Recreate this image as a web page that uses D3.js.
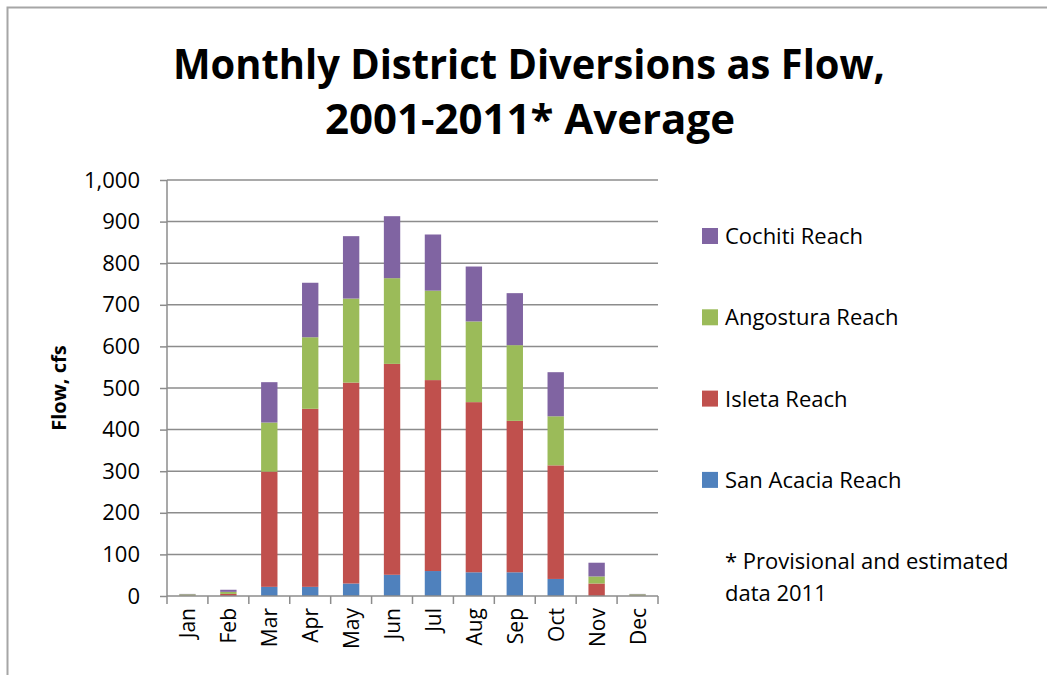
<!DOCTYPE html>
<html>
<head>
<meta charset="utf-8">
<script src="https://cdn.jsdelivr.net/npm/d3@7"></script>
<style>
  body { margin: 0; background: #fff; }
  svg { display: block; }
  text { font-family: "Open Sans", "Liberation Sans", sans-serif; }
</style>
</head>
<body>
<div id="chart"></div>
<script>
// values (cfs)
var months = ["Jan", "Feb", "Mar", "Apr", "May", "Jun", "Jul", "Aug", "Sep", "Oct", "Nov", "Dec"];
var sanAcacia = [0, 0, 22, 22, 30, 51, 60, 57, 57, 41, 0, 0];
var isleta    = [1, 5, 277, 428, 483, 507, 459, 409, 364, 273, 30, 1];
var angostura = [3, 5, 118, 172, 202, 206, 215, 194, 182, 118, 17, 3];
var cochiti   = [1, 5, 97, 131, 150, 149, 135, 132, 125, 106, 33, 1];
var seriesNames = ["San Acacia Reach", "Isleta Reach", "Angostura Reach", "Cochiti Reach"];
var colors = ["#4F81BD", "#C0504D", "#9BBB59", "#8064A2"];
var yTicks = [0, 100, 200, 300, 400, 500, 600, 700, 800, 900, 1000];

var W = 1047, H = 675;
var svg = d3.select("#chart").append("svg").attr("width", W).attr("height", H);

// outer frame (cut off at right/bottom)
svg.append("path").attr("d", "M7.5," + H + "V7.5H" + W)
    .attr("fill", "none").attr("stroke", "#a6a6a6").attr("stroke-width", 2);

// title
svg.append("text").attr("x", 529).attr("y", 79).attr("text-anchor", "middle")
    .attr("font-size", 41).attr("font-weight", "bold")
    .attr("textLength", 712).attr("lengthAdjust", "spacingAndGlyphs")
    .text("Monthly District Diversions as Flow,");
svg.append("text").attr("x", 530).attr("y", 134).attr("text-anchor", "middle")
    .attr("font-size", 41).attr("font-weight", "bold")
    .attr("textLength", 410).attr("lengthAdjust", "spacingAndGlyphs")
    .text("2001-2011* Average");

var margin = {left: 167, top: 180, right: 389, bottom: 79};
var width = W - margin.left - margin.right,
    height = H - margin.top - margin.bottom;
var g = svg.append("g").attr("transform", "translate(" + margin.left + "," + margin.top + ")");

var x = d3.scaleBand().domain(months).range([0, width]).paddingInner(0.6).paddingOuter(0.3);
var y = d3.scaleLinear().domain([0, 1000]).range([height, 0]);

// gridlines
g.selectAll(".grid").data(yTicks.slice(1)).enter().append("line")
    .attr("x1", 0).attr("x2", width)
    .attr("y1", function (d) { return y(d); }).attr("y2", function (d) { return y(d); })
    .attr("stroke", "#8c8c8c").attr("stroke-width", 1.5);

// stacked bars
var rows = months.map(function (m, i) {
    return {month: m, s0: sanAcacia[i], s1: isleta[i], s2: angostura[i], s3: cochiti[i]};
});
var stack = d3.stack().keys(["s0", "s1", "s2", "s3"]);
var layers = stack(rows);

g.selectAll(".layer").data(layers).enter().append("g")
    .attr("fill", function (d, i) { return colors[i]; })
    .selectAll("rect").data(function (d) { return d; }).enter().append("rect")
    .attr("x", function (d) { return x(d.data.month); })
    .attr("width", x.bandwidth())
    .attr("y", function (d) { return y(d[1]); })
    .attr("height", function (d) { return y(d[0]) - y(d[1]); });

// y axis
var yAxis = g.append("g")
    .call(d3.axisLeft(y).tickValues(yTicks).tickSize(7).tickPadding(20)
        .tickFormat(d3.format(",")));
yAxis.selectAll("line").attr("stroke", "#8c8c8c").attr("stroke-width", 1.5);
yAxis.select(".domain").attr("stroke", "#8c8c8c").attr("stroke-width", 1.5)
    .attr("d", "M0,0V" + height);
yAxis.selectAll("text").attr("font-size", 22).attr("fill", "#000")
    .attr("font-family", "'Open Sans', sans-serif");

// x axis: ticks at category boundaries
var xAxis = g.append("g").attr("transform", "translate(0," + height + ")");
xAxis.append("line").attr("x1", 0).attr("x2", width)
    .attr("stroke", "#8c8c8c").attr("stroke-width", 1.5);
xAxis.selectAll(".tk").data(d3.range(months.length + 1)).enter().append("line")
    .attr("x1", function (d) { return d * width / months.length; })
    .attr("x2", function (d) { return d * width / months.length; })
    .attr("y1", 0).attr("y2", 8)
    .attr("stroke", "#8c8c8c").attr("stroke-width", 1.5);
xAxis.selectAll(".lbl").data(months).enter().append("text")
    .attr("transform", function (d) {
        return "translate(" + (x(d) + x.bandwidth() / 2 + 8) + ",12) rotate(-90)";
    })
    .attr("text-anchor", "end")
    .attr("font-family", "'DejaVu Sans', Verdana, sans-serif")
    .attr("font-size", 21)
    .text(function (d) { return d; });

// y axis title
svg.append("text")
    .attr("transform", "translate(66,388) rotate(-90)")
    .attr("text-anchor", "middle").attr("font-size", 20).attr("font-weight", "bold")
    .text("Flow, cfs");

// legend (top to bottom: Cochiti, Angostura, Isleta, San Acacia)
var legendOrder = [3, 2, 1, 0];
var lg = svg.append("g");
legendOrder.forEach(function (si, k) {
    var ly = 236 + k * 81.3;
    lg.append("rect").attr("x", 702).attr("y", ly - 8).attr("width", 16).attr("height", 16)
        .attr("fill", colors[si]);
    lg.append("text").attr("x", 725).attr("y", ly + 8).attr("font-size", 22)
        .text(seriesNames[si]);
});
lg.append("text").attr("x", 725).attr("y", 569).attr("font-size", 22)
    .text("* Provisional and estimated");
lg.append("text").attr("x", 725).attr("y", 601).attr("font-size", 22)
    .text("data 2011");
</script>
</body>
</html>
